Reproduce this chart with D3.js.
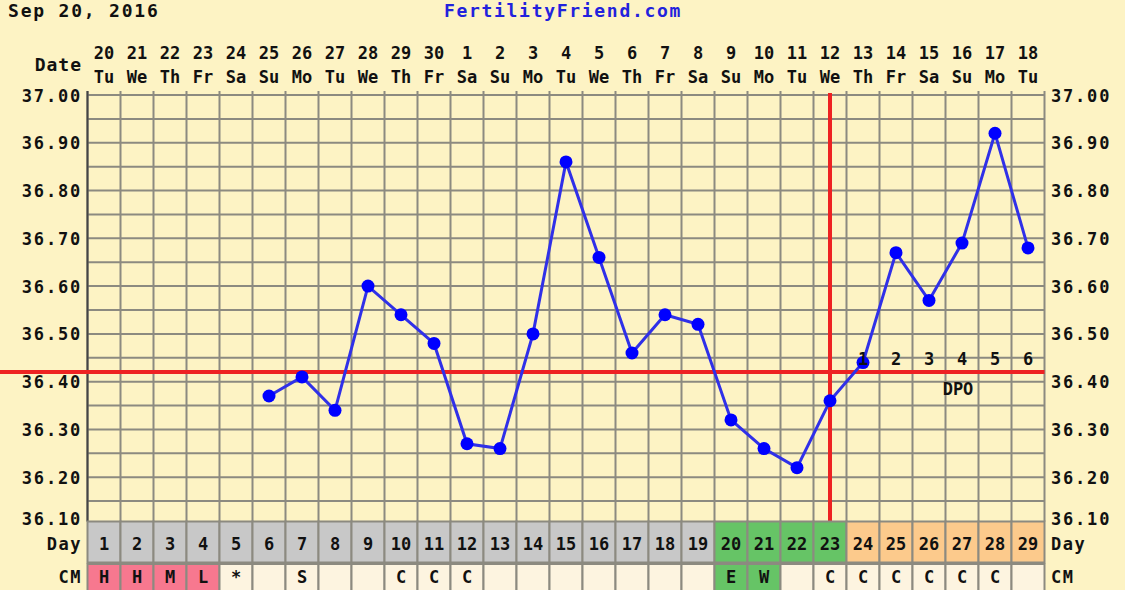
<!DOCTYPE html>
<html>
<head>
<meta charset="utf-8">
<script src="https://cdn.jsdelivr.net/npm/d3@7"></script>
<style>
body { margin: 0; background: #fdf3c4; }
svg { display: block; }
text { font-family: "DejaVu Sans Mono", monospace; font-weight: bold; fill: #111; }
</style>
</head>
<body>
<svg id="chart" width="1125" height="590"></svg>
<script>
// chart data
var days = d3.range(1, 30);
var dates = [20,21,22,23,24,25,26,27,28,29,30,1,2,3,4,5,6,7,8,9,10,11,12,13,14,15,16,17,18];
var weekdays = ['Tu','We','Th','Fr','Sa','Su','Mo','Tu','We','Th','Fr','Sa','Su','Mo','Tu','We','Th','Fr','Sa','Su','Mo','Tu','We','Th','Fr','Sa','Su','Mo','Tu'];
var temps = [null,null,null,null,null,36.37,36.41,36.34,36.60,36.54,36.48,36.27,36.26,36.50,36.86,36.66,36.46,36.54,36.52,36.32,36.26,36.22,36.36,36.44,36.67,36.57,36.69,36.92,36.68];
var cm = ['H','H','M','L','*','','S','','','C','C','C','','','','','','','','E','W','','C','C','C','C','C','C',''];
var cmType = ['p','p','p','p','n','n','n','n','n','n','n','n','n','n','n','n','n','n','n','g','g','n','n','n','n','n','n','n','n'];
var phase = ['a','a','a','a','a','a','a','a','a','a','a','a','a','a','a','a','a','a','a','f','f','f','f','l','l','l','l','l','l'];
var yTicks = [37.00,36.90,36.80,36.70,36.60,36.50,36.40,36.30,36.20,36.10];
var coverline = 36.42;
var ovulationDay = 23;
var dpo = [1,2,3,4,5,6];

var svg = d3.select('#chart');
var bg = '#fdf3c4';
var grid = '#8c8a80';

var x = d3.scaleBand().domain(days).range([87.5, 1044.5]).padding(0);
var y = d3.scaleLinear().domain([36.1, 37.0]).range([525, 95]);
var plotBottom = 521.5;

svg.append('rect').attr('width', 1125).attr('height', 590).attr('fill', bg);

// headers
svg.append('text').attr('x', 8).attr('y', 17).style('font-size', '18px').style('letter-spacing', '1.8px').text('Sep 20, 2016');
svg.append('text').attr('x', 563).attr('y', 17).attr('text-anchor', 'middle')
    .style('font-size', '18px').style('letter-spacing', '1.7px').style('fill', '#2222dd').text('FertilityFriend.com');

svg.append('text').attr('x', 82).attr('y', 71).attr('text-anchor', 'end').style('font-size', '18px').style('letter-spacing', '1px').text('Date');

var dateG = svg.append('g');
dateG.selectAll('text.d').data(days).enter().append('text')
    .attr('x', function (d) { return x(d) + x.bandwidth() / 2; })
    .attr('y', 59).attr('text-anchor', 'middle').style('font-size', '17px')
    .text(function (d, i) { return dates[i]; });
dateG.selectAll('text.w').data(days).enter().append('text')
    .attr('x', function (d) { return x(d) + x.bandwidth() / 2; })
    .attr('y', 82.5).attr('text-anchor', 'middle').style('font-size', '17px')
    .text(function (d, i) { return weekdays[i]; });

// grid
var hLines = d3.range(36.15, 37.001, 0.05);
svg.append('g').selectAll('line').data(hLines).enter().append('line')
    .attr('x1', 87.5).attr('x2', 1044.5)
    .attr('y1', function (d) { return y(d); }).attr('y2', function (d) { return y(d); })
    .attr('stroke', grid).attr('stroke-width', 2);

var vEdges = days.map(function (d) { return x(d); }).concat([1044.5]);
svg.append('g').selectAll('line').data(vEdges).enter().append('line')
    .attr('x1', function (d) { return d; }).attr('x2', function (d) { return d; })
    .attr('y1', 91).attr('y2', plotBottom)
    .attr('stroke', grid).attr('stroke-width', 2);

svg.append('line').attr('x1', 87.5).attr('x2', 87.5).attr('y1', 91).attr('y2', plotBottom)
    .attr('stroke', '#444').attr('stroke-width', 2);

// y labels, both sides
yTicks.forEach(function (t) {
    var ty = Math.min(y(t) + 6.5, 525);
    svg.append('text').attr('x', 82).attr('y', ty).attr('text-anchor', 'end')
        .style('font-size', '17px').style('letter-spacing', '1.8px').text(t.toFixed(2));
    svg.append('text').attr('x', 1051).attr('y', ty)
        .style('font-size', '17px').style('letter-spacing', '1.8px').text(t.toFixed(2));
});

// coverline and ovulation line
svg.append('line').attr('x1', 0).attr('x2', 1044.5)
    .attr('y1', y(coverline)).attr('y2', y(coverline))
    .attr('stroke', '#ee2222').attr('stroke-width', 4);
var ox = x(ovulationDay) + x.bandwidth() / 2;
svg.append('line').attr('x1', ox).attr('x2', ox).attr('y1', 93).attr('y2', plotBottom)
    .attr('stroke', '#ee2222').attr('stroke-width', 4);

// temperature line
var pts = days.map(function (d, i) { return { day: d, t: temps[i] }; }).filter(function (p) { return p.t !== null; });
var line = d3.line()
    .x(function (p) { return x(p.day) + x.bandwidth() / 2; })
    .y(function (p) { return y(p.t); });
svg.append('path').datum(pts).attr('d', line)
    .attr('fill', 'none').attr('stroke', '#3030e8').attr('stroke-width', 3);
svg.append('g').selectAll('circle').data(pts).enter().append('circle')
    .attr('cx', function (p) { return x(p.day) + x.bandwidth() / 2; })
    .attr('cy', function (p) { return y(p.t); })
    .attr('r', 6.5).attr('fill', '#0000ff');

// DPO labels (drawn over the points)
svg.append('g').selectAll('text').data(dpo).enter().append('text')
    .attr('x', function (d) { return x(ovulationDay + d) + x.bandwidth() / 2; })
    .attr('y', 365).attr('text-anchor', 'middle').style('font-size', '17px')
    .text(function (d) { return d; });
svg.append('text').attr('x', 958).attr('y', 395).attr('text-anchor', 'middle')
    .style('font-size', '17px').text('DPO');

// bottom rows
var phaseColor = { a: '#c8c8c8', f: '#66c466', l: '#fcca8c' };
var cmColor = { p: '#f7788f', g: '#66c466', n: '#fdf4e0' };
var dayRow = svg.append('g');
dayRow.selectAll('rect').data(days).enter().append('rect')
    .attr('x', function (d) { return x(d); }).attr('y', plotBottom)
    .attr('width', x.bandwidth()).attr('height', 41)
    .attr('fill', function (d, i) { return phaseColor[phase[i]]; })
    .attr('stroke', grid).attr('stroke-width', 2);
dayRow.selectAll('text').data(days).enter().append('text')
    .attr('x', function (d) { return x(d) + x.bandwidth() / 2; })
    .attr('y', 550).attr('text-anchor', 'middle').style('font-size', '17px')
    .text(function (d) { return d; });

var cmRow = svg.append('g');
cmRow.selectAll('rect').data(days).enter().append('rect')
    .attr('x', function (d) { return x(d); }).attr('y', 564)
    .attr('width', x.bandwidth()).attr('height', 30)
    .attr('fill', function (d, i) { return cmColor[cmType[i]]; })
    .attr('stroke', grid).attr('stroke-width', 2);
cmRow.selectAll('text').data(days).enter().append('text')
    .attr('x', function (d) { return x(d) + x.bandwidth() / 2; })
    .attr('y', 583).attr('text-anchor', 'middle').style('font-size', '17px')
    .text(function (d, i) { return cm[i]; });

svg.append('text').attr('x', 82).attr('y', 550).attr('text-anchor', 'end').style('font-size', '17px').style('letter-spacing', '1.5px').text('Day');
svg.append('text').attr('x', 82).attr('y', 583).attr('text-anchor', 'end').style('font-size', '17px').style('letter-spacing', '1.5px').text('CM');
svg.append('text').attr('x', 1051).attr('y', 550).style('font-size', '17px').style('letter-spacing', '1.5px').text('Day');
svg.append('text').attr('x', 1051).attr('y', 583).style('font-size', '17px').style('letter-spacing', '1.5px').text('CM');
</script>
</body>
</html>
